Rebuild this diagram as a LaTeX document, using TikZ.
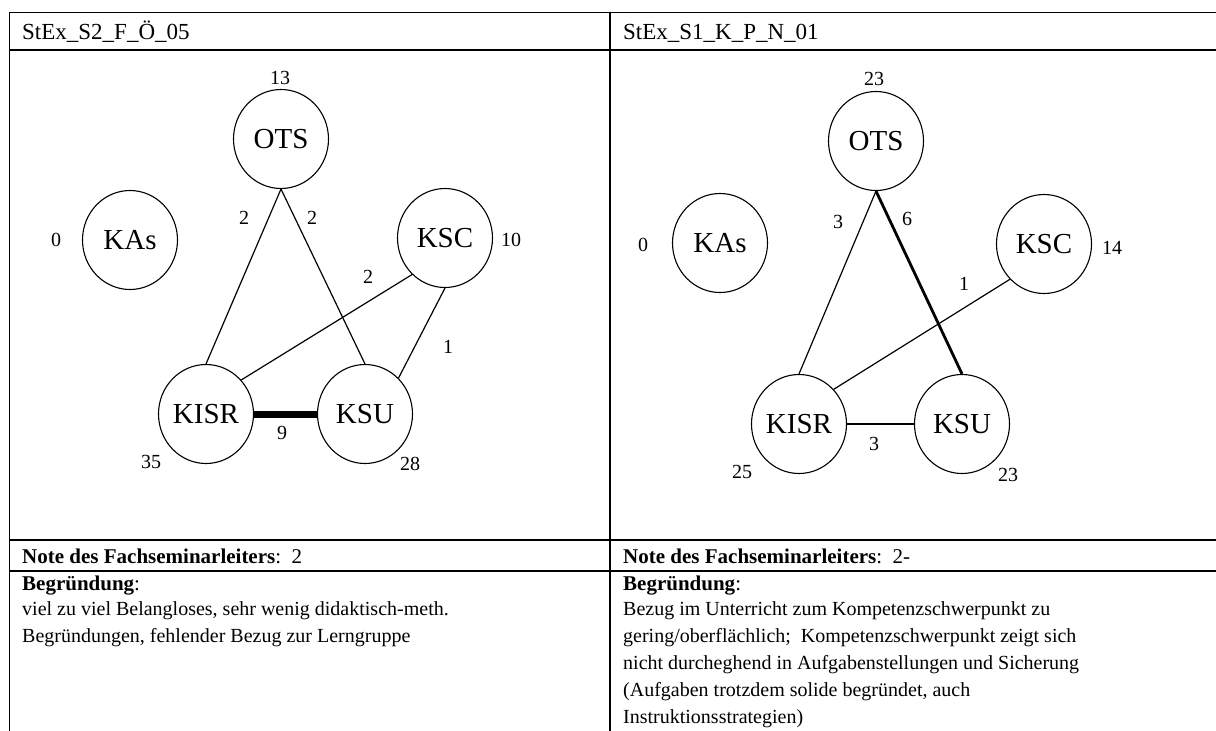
\documentclass[tikz,border=0pt]{standalone}
\usepackage{fontspec}
\setmainfont{Liberation Serif}
\usetikzlibrary{shapes.geometric}
\begin{document}
\begin{tikzpicture}[x=1pt,y=-1pt,
  rule/.style={line width=1.8pt},
  topic/.style={ellipse,draw,line width=1.1pt,minimum width=95pt,minimum height=99pt,inner sep=0pt,
    font=\fontsize{29}{32}\selectfont},
  num/.style={inner sep=0pt,font=\fontsize{20}{22}\selectfont},
  link/.style={line width=1.2pt},
  heavy/.style={line width=2.8pt},
  heaviest/.style={line width=7pt},
  cell/.style={anchor=base west,inner sep=0pt,font=\fontsize{21}{24}\selectfont},
  headcell/.style={anchor=base west,inner sep=0pt,font=\fontsize{23}{26}\selectfont},
  body/.style={anchor=base west,inner sep=0pt,font=\fontsize{20}{27}\selectfont}
]
\useasboundingbox (0,0) rectangle (1216,731);
\clip (0,0) rectangle (1216,731);

% table rules
\draw[rule] (9.5,12.5) -- (1216,12.5);
\draw[rule] (9.5,50) -- (1216,50);
\draw[rule] (9.5,540) -- (1216,540);
\draw[rule] (9.5,571) -- (1216,571);
\draw[rule] (9.5,11.6) -- (9.5,731);
\draw[rule] (610,11.6) -- (610,731);

% header cells
\node[headcell] (h1) at (22,39) {StEx\_S2\_F\_Ö\_05};
\node[headcell] (h2) at (623,39) {StEx\_S1\_K\_P\_N\_01};

% left network
\node[topic] (ots1) at (281,139) {OTS};
\node[topic] (kas1) at (130,240) {KAs};
\node[topic] (ksc1) at (445,238) {KSC};
\node[topic] (kisr1) at (206,414) {KISR};
\node[topic] (ksu1) at (365,414) {KSU};
\draw[link] (ots1.south) -- (kisr1.north);
\draw[link] (ots1.south) -- (ksu1.north);
\draw[link] (ksc1.228) -- (kisr1.44);
\draw[link] (ksc1.south) -- (ksu1.47);
\draw[heaviest] (kisr1.east) -- (ksu1.west);
\node[num] (n13) at (280,78) {13};
\node[num] (n0a) at (56,240) {0};
\node[num] (n10) at (511,240) {10};
\node[num] (n35) at (151,462) {35};
\node[num] (n28) at (410,464) {28};
\node[num] (e1) at (244,218) {2};
\node[num] (e2) at (312,218) {2};
\node[num] (e3) at (368,277) {2};
\node[num] (e4) at (448,347) {1};
\node[num] (e5) at (282,433) {9};

% right network
\node[topic] (ots2) at (876,141) {OTS};
\node[topic] (kas2) at (720,243) {KAs};
\node[topic] (ksc2) at (1044,244) {KSC};
\node[topic] (kisr2) at (799,424) {KISR};
\node[topic] (ksu2) at (962,424) {KSU};
\draw[link] (ots2.south) -- (kisr2.north);
\draw[heavy] (ots2.south) -- (ksu2.north);
\draw[link] (ksc2.226) -- (kisr2.45);
\draw[link] (kisr2.east) -- (ksu2.west);
\node[num] (n23a) at (874,79) {23};
\node[num] (n0b) at (643,245) {0};
\node[num] (n14) at (1112,248) {14};
\node[num] (n25) at (742,472) {25};
\node[num] (n23b) at (1008,475) {23};
\node[num] (f1) at (838,222) {3};
\node[num] (f2) at (907,219) {6};
\node[num] (f3) at (964,284) {1};
\node[num] (f4) at (874,444) {3};

% grade row
\node[cell] (g1) at (22,563) {\textbf{Note des Fachseminarleiters}:\ \ 2};
\node[cell] (g2) at (623,563) {\textbf{Note des Fachseminarleiters}:\ \ 2-};

% reasons
\node[cell] (b1) at (22,590) {\textbf{Begründung}:};
\node[cell] (b2) at (623,590) {\textbf{Begründung}:};
\node[body] (l1) at (22,615) {viel zu viel Belangloses, sehr wenig didaktisch-meth.};
\node[body] (l2) at (22,642) {Begründungen, fehlender Bezug zur Lerngruppe};
\node[body] (r1) at (623,615) {Bezug im Unterricht zum Kompetenzschwerpunkt zu};
\node[body] (r2) at (623,642) {gering/oberflächlich;\ \ Kompetenzschwerpunkt zeigt sich};
\node[body] (r3) at (623,669) {nicht durcheghend in Aufgabenstellungen und Sicherung};
\node[body] (r4) at (623,696) {(Aufgaben trotzdem solide begründet, auch};
\node[body] (r5) at (623,723) {Instruktionsstrategien)};
\end{tikzpicture}
\end{document}
